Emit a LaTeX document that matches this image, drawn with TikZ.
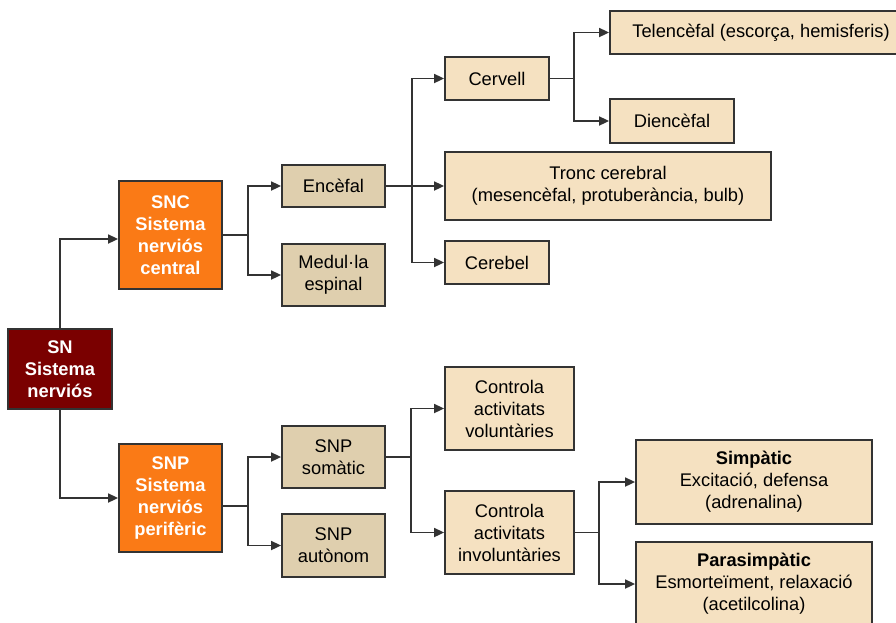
\documentclass[tikz,border=0pt]{standalone}
\usepackage{fontspec}
\setmainfont{Liberation Sans}
\usetikzlibrary{arrows.meta}

\definecolor{rootred}{HTML}{7A0000}
\definecolor{mainorange}{HTML}{FA7A16}
\definecolor{midtan}{HTML}{DFCFAE}
\definecolor{lighttan}{HTML}{F5E1C1}
\definecolor{edgegray}{HTML}{333333}

\tikzset{
  basebox/.style={draw=edgegray, line width=1.8pt, inner sep=0pt, align=center,
    font=\fontsize{18.3}{22}\selectfont},
  rootbox/.style={basebox, fill=rootred, text=white, font=\fontsize{18.3}{22}\selectfont\bfseries},
  sysbox/.style={basebox, fill=mainorange, text=white, font=\fontsize{18.3}{22}\selectfont\bfseries},
  partbox/.style={basebox, fill=midtan},
  leafbox/.style={basebox, fill=lighttan},
  conn/.style={draw=edgegray, line width=1.7pt},
  arr/.style={conn, -{Triangle[length=10pt,width=9pt]}},
}

\begin{document}
\begin{tikzpicture}[x=1pt, y=-1pt]
\clip (0,0) rectangle (896,622);

% root and the two main systems
\node[rootbox, minimum width=104pt, minimum height=80pt] (SN) at (60,369) {SN\\Sistema\\nerviós};
\node[sysbox, minimum width=103pt, minimum height=108pt] (SNC) at (170.5,235) {SNC\\Sistema\\nerviós\\central};
\node[sysbox, minimum width=103pt, minimum height=108pt] (SNP) at (170.5,498) {SNP\\Sistema\\nerviós\\perifèric};

% central nervous system
\node[partbox, minimum width=103pt, minimum height=42pt] (Enc) at (333.5,186) {Encèfal};
\node[partbox, minimum width=103pt, minimum height=62pt] (Med) at (333.5,275) {Medul·la\\espinal};
\node[leafbox, minimum width=104pt, minimum height=43pt] (Cerv) at (497,78.5) {Cervell};
\node[leafbox, minimum width=326pt, minimum height=68pt] (Tronc) at (608,186) {Tronc cerebral\\(mesencèfal, protuberància, bulb)};
\node[leafbox, minimum width=104pt, minimum height=43pt] (Cereb) at (497,262.5) {Cerebel};
\node[leafbox, minimum width=302pt, minimum height=43pt] (Tel) at (761,32.5) {Telencèfal (escorça, hemisferis)};
\node[leafbox, minimum width=124pt, minimum height=44pt] (Dien) at (672,121) {Diencèfal};

% peripheral nervous system
\node[partbox, minimum width=103pt, minimum height=62pt] (Som) at (333.5,457) {SNP\\somàtic};
\node[partbox, minimum width=103pt, minimum height=63pt] (Aut) at (333.5,545.5) {SNP\\autònom};
\node[leafbox, minimum width=129pt, minimum height=83pt] (Vol) at (509.5,408.5) {Controla\\activitats\\voluntàries};
\node[leafbox, minimum width=129pt, minimum height=83pt] (Invol) at (509.5,532.5) {Controla\\activitats\\involuntàries};
\node[leafbox, minimum width=236pt, minimum height=84pt] (Simp) at (754,482) {\textbf{Simpàtic}\\Excitació, defensa\\(adrenalina)};
\node[leafbox, minimum width=236pt, minimum height=84pt] (Para) at (754,584) {\textbf{Parasimpàtic}\\Esmorteïment, relaxació\\(acetilcolina)};

% connectors
\draw[arr] (SN.north) |- ([yshift=-4pt]SNC.west);
\draw[arr] (SN.south) |- (SNP.west);

\draw[arr] (SNC.east) -- ++(25,0) |- (Enc.west);
\draw[arr] (SNC.east) -- ++(25,0) |- (Med.west);

\draw[arr] (Enc.east) -- ++(26,0) |- (Cerv.west);
\draw[arr] (Enc.east) -- (Tronc.west);
\draw[arr] (Enc.east) -- ++(26,0) |- (Cereb.west);

\draw[arr] (Cerv.east) -- ++(24,0) |- (Tel.west);
\draw[arr] (Cerv.east) -- ++(24,0) |- (Dien.west);

\draw[arr] ([yshift=-8pt]SNP.east) -- ++(25,0) |- (Som.west);
\draw[arr] ([yshift=-8pt]SNP.east) -- ++(25,0) |- (Aut.west);

\draw[arr] (Som.east) -- ++(25,0) |- (Vol.west);
\draw[arr] (Som.east) -- ++(25,0) |- (Invol.west);

\draw[arr] (Invol.east) -- ++(24,0) |- (Simp.west);
\draw[arr] (Invol.east) -- ++(24,0) |- (Para.west);
\end{tikzpicture}
\end{document}
